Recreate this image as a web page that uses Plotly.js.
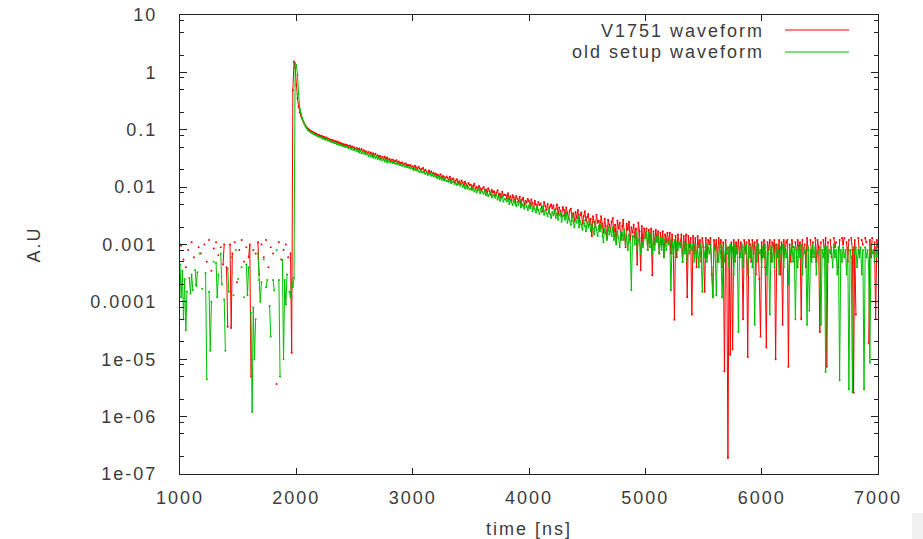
<!DOCTYPE html>
<html>
<head>
<meta charset="utf-8">
<script src="https://cdn.plot.ly/plotly-3.0.1.min.js"></script>
<style>
html,body{margin:0;padding:0;background:#ffffff;}
#chart{width:923px;height:539px;}
svg text{letter-spacing:2px;}
</style>
</head>
<body>
<div id="chart"></div>
<script>
// ---- data ----
const sampleStart = 1000;   // ns, first sample
const samplePeriod = 10;    // ns between samples
const seriesNames = ['V1751 waveform', 'old setup waveform'];
const xTickVals = [1000, 2000, 3000, 4000, 5000, 6000, 7000];
const xTickText = ['1000', '2000', '3000', '4000', '5000', '6000', '7000'];
const yTickVals = [10, 1, 0.1, 0.01, 0.001, 0.0001, 1e-5, 1e-6, 1e-7];
const yTickText = ['10', '1', '0.1', '0.01', '0.001', '0.0001', '1e-05', '1e-06', '1e-07'];
const xTitle = 'time [ns]';
const yTitle = 'A.U';

// V1751 waveform (null = non-positive sample, not drawn on log axis)
const v1751 = [
/*1000*/ 1.0e-3, 9.5e-4, null, 5.5e-4, null, 4e-4, null, 8e-4, null, null,
/*1100*/ 1.1e-3, null, 6e-4, null, 2e-4, null, 9e-4, null, 7e-4, null,
/*1200*/ null, 1.0e-3, null, 5e-4, null, 1.2e-3, null, 3.5e-4, null, 8.5e-4,
/*1300*/ null, 1.1e-3, null, 6.5e-4, null, 9e-4, null, 4.5e-4, 1.0e-3, null,
/*1400*/ 4e-4, 3.7e-5, null, 1.0e-3, 3.5e-5, 7e-4, null, 1.1e-3, null, 2.2e-4,
/*1500*/ null, 8e-4, null, 1.2e-3, null, 5e-4, null, 9e-4, null, 6e-4,
/*1600*/ 1.0e-3, 5e-6, null, 8e-4, null, 7e-4, null, 1.1e-3, 3e-4, null,
/*1700*/ 1.0e-3, null, 6e-4, null, 1.2e-3, null, 4e-4, null, 9e-4, null,
/*1800*/ 7e-4, null, null, 3.7e-6, null, 1.1e-3, null, 5.5e-4, null, 8e-4,
/*1900*/ null, 1.0e-3, null, 6e-4, null, 7e-4, 1.3e-5, 0.49, 1.55, 1.2,
/*2000*/ 0.6, 0.35, 0.25, 0.2, 0.175, 0.155, 0.138, 0.126, 0.116, 0.109,
/*2100*/ 0.104, 0.100, 0.097, 0.094, 0.092, 0.089, 0.087, 0.085, 0.083, 0.081,
/*2200*/ 0.080, 0.078, 0.078, 0.075, 0.075, 0.072, 0.073, 0.070, 0.070, 0.067,
/*2300*/ 0.067, 0.065, 0.065, 0.063, 0.063, 0.060, 0.062, 0.058, 0.059, 0.057,
/*2400*/ 0.056, 0.056, 0.054, 0.055, 0.053, 0.052, 0.053, 0.050, 0.051, 0.049,
/*2500*/ 0.049, 0.046, 0.048, 0.045, 0.047, 0.043, 0.046, 0.042, 0.044, 0.041,
/*2600*/ 0.042, 0.039, 0.041, 0.038, 0.040, 0.036, 0.039, 0.035, 0.038, 0.034,
/*2700*/ 0.036, 0.033, 0.035, 0.032, 0.034, 0.031, 0.034, 0.030, 0.033, 0.029,
/*2800*/ 0.0312, 0.0290, 0.0296, 0.0301, 0.0278, 0.0286, 0.0293, 0.0270, 0.0281, 0.0266,
/*2900*/ 0.0262, 0.0268, 0.0249, 0.0255, 0.0259, 0.0238, 0.0246, 0.0235, 0.0242, 0.0226,
/*3000*/ 0.0230, 0.0214, 0.0236, 0.0219, 0.0205, 0.0226, 0.0212, 0.0198, 0.0209, 0.0215,
/*3100*/ 0.0189, 0.0201, 0.0184, 0.0176, 0.0195, 0.0180, 0.0187, 0.0168, 0.0178, 0.0166,
/*3200*/ 0.0171, 0.0158, 0.0164, 0.0152, 0.0168, 0.0146, 0.0157, 0.0149, 0.0139, 0.0153,
/*3300*/ 0.0146, 0.0134, 0.0151, 0.0129, 0.0138, 0.0142, 0.0123, 0.0131, 0.0137, 0.0118,
/*3400*/ 0.0126, 0.0115, 0.0130, 0.0121, 0.0109, 0.0124, 0.0113, 0.0103, 0.0118, 0.0108,
/*3500*/ 0.0110, 0.0097, 0.0106, 0.0114, 0.0093, 0.0101, 0.0089, 0.0105, 0.0096, 0.0087,
/*3600*/ 0.0095, 0.0101, 0.0084, 0.0091, 0.0079, 0.0096, 0.0086, 0.0074, 0.0089, 0.0081,
/*3700*/ 0.0085, 0.0072, 0.0080, 0.0088, 0.0068, 0.0077, 0.0065, 0.0083, 0.0071, 0.0074,
/*3800*/ 0.0073, 0.0064, 0.0078, 0.0061, 0.0069, 0.0058, 0.0072, 0.0066, 0.0055, 0.0070,
/*3900*/ 0.0063, 0.0056, 0.0068, 0.0052, 0.0060, 0.0065, 0.0049, 0.0058, 0.0054, 0.0062,
/*4000*/ 0.0057, 0.0047, 0.0061, 0.0053, 0.0043, 0.0058, 0.0050, 0.0041, 0.0055, 0.0049,
/*4100*/ 0.0052, 0.0044, 0.0038, 0.0055, 0.0047, 0.0040, 0.0051, 0.0036, 0.0046, 0.0050,
/*4200*/ 0.0043, 0.0048, 0.0035, 0.0041, 0.0050, 0.0033, 0.0044, 0.0038, 0.0031, 0.0045,
/*4300*/ 0.0040, 0.0032, 0.0044, 0.0036, 0.0028, 0.0039, 0.0042, 0.0030, 0.0035, 0.0026,
/*4400*/ 0.0037, 0.0029, 0.0040, 0.0025, 0.0033, 0.0036, 0.0023, 0.0031, 0.0038, 0.0026,
/*4500*/ 0.0030, 0.0034, 0.0022, 0.0028, 0.0014, 0.0031, 0.0025, 0.0020, 0.0033, 0.0024,
/*4600*/ 0.0026, 0.0019, 0.0031, 0.0023, 0.0016, 0.0028, 0.0021, 0.0013, 0.0027, 0.0022,
/*4700*/ 0.0017, 0.0025, 0.0029, 0.0014, 0.0022, 0.0011, 0.0026, 0.0019, 0.0024, 0.0012,
/*4800*/ 0.0021, 0.0027, 0.0015, 0.0009, 0.0023, 0.0018, 0.0025, 0.0012, 0.0020, 0.0016,
/*4900*/ 0.0022, 0.0013, 0.0019, 0.00045, 0.0024, 0.0017, 0.00036, 0.0021, 0.0010, 0.0019,
/*5000*/ 0.0014, 0.0019, 0.0008, 0.0018, 0.0011, 0.0019, 0.00029, 0.0017, 0.0010, 0.0018,
/*5100*/ 0.0012, 0.0017, 0.0007, 0.0016, 0.0010, 0.0017, 0.0006, 0.0015, 0.0011, 0.0016,
/*5200*/ 0.0011, 0.0016, 0.0007, 0.0015, 0.0009, 0.000049, 0.0014, 0.0006, 0.0015, 0.0010,
/*5300*/ 0.0010, 0.0015, 0.0005, 0.0014, 0.0008, 0.0015, 0.00012, 0.0014, 0.0009, 0.0013,
/*5400*/ 0.00006, 0.0014, 0.0007, 0.0013, 0.0004, 0.0014, 0.0009, 0.0012, 0.0005, 0.0013,
/*5500*/ 0.0009, 0.00015, 0.0013, 0.0006, 0.0012, 0.0010, 0.0013, 0.0003, 0.00012, 0.0012,
/*5600*/ 0.0008, 0.0012, 0.0005, 0.0013, 0.0009, 0.0012, 0.0004, 0.0011, 6.2e-6, 0.0012,
/*5700*/ 0.0007, 1.9e-7, 0.0009, 1.2e-5, 0.0011, 1.5e-5, 0.0012, 0.0005, 0.0011, 0.0007,
/*5800*/ 0.0012, 0.0006, 0.0011, 0.0009, 0.00005, 0.0012, 0.0008, 0.0011, 0.000011, 0.0012,
/*5900*/ 0.0010, 0.0005, 0.0012, 0.0007, 0.0011, 0.0003, 0.0012, 0.0008, 0.00025, 0.000025,
/*6000*/ 0.0011, 0.0006, 0.0012, 0.0004, 0.000016, 0.0011, 0.0008, 0.0012, 0.0005, 0.0011,
/*6100*/ 0.0009, 0.0012, 0.00001, 0.0010, 0.0006, 0.0012, 0.0003, 0.0011, 0.00004, 0.0012,
/*6200*/ 0.0007, 0.0011, 0.0012, 7.4e-6, 0.0010, 0.0005, 0.0012, 0.0009, null, 0.0011,
/*6300*/ 0.0006, 0.0012, 0.0008, 0.0011, 0.00005, 0.0012, null, 0.0010, 0.0004, 0.0013,
/*6400*/ 0.0008, null, 0.0012, 0.0006, 0.0011, null, 0.0013, 0.0005, 0.0012, 0.0009,
/*6500*/ 0.00003, 0.0011, null, 0.0012, 0.0007, 0.0013, 7.4e-6, 0.0011, null, 0.0012,
/*6600*/ 0.0006, null, 0.0013, 0.0009, 0.0011, null, 0.0004, 0.0012, null, 0.0013,
/*6700*/ 0.0010, 0.0013, null, 0.0011, 0.0005, 0.0012, null, 0.0013, 0.0008, 2.6e-6,
/*6800*/ 0.0012, 0.00006, null, 0.0013, 0.0007, null, 0.0012, 0.0010, null, 0.0013,
/*6900*/ 0.0011, null, 1.9e-5, 0.0012, 0.0006, 0.0013, null, 0.0011, 0.00005, 0.0012,
/*7000*/ 0.0009
];

// old setup waveform
const oldSetup = [
/*1000*/ 4.5e-4, 1.2e-4, 3.5e-4, 5e-5, 2.5e-4, 3.2e-5, 1.5e-4, null, 2.6e-4, 1.4e-4,
/*1100*/ 3e-4, 1.6e-4, null, 3.6e-4, 1.9e-4, 3.3e-4, null, 7e-4, null, 1.7e-4,
/*1200*/ null, null, 3.2e-4, 4.5e-6, null, 1.5e-4, 1.4e-5, 1.0e-4, null, 5e-4,
/*1300*/ null, 4.8e-4, 1.2e-4, 3.0e-4, null, 7e-4, 2e-4, null, 1.1e-4, 1.4e-5,
/*1400*/ null, 3.8e-4, 1.5e-4, null, 6e-4, null, 1.3e-4, null, 8e-4, null,
/*1500*/ 2.5e-4, null, null, 4e-4, null, 1.2e-4, null, 4.5e-4, 1.3e-4, 4e-4,
/*1600*/ null, 6.5e-5, 1.2e-6, 8e-5, 1e-5, 5e-5, null, 7e-4, 2.4e-4, 1.0e-4,
/*1700*/ 2.2e-4, null, 5.5e-4, null, 1.8e-4, 2.4e-4, null, 8.5e-5, 2.5e-5, null,
/*1800*/ 2.4e-4, 1.6e-4, null, 8e-4, null, 2.4e-4, 5e-6, null, 5.4e-4, 1e-5,
/*1900*/ 2.4e-4, 9e-5, 3e-4, null, 1.5e-4, 1.2e-4, 2.5e-4, 1.8e-4, 2.6e-4, 1.45,
/*2000*/ 1.35, 0.9, 0.42, 0.23, 0.19, 0.16, 0.14, 0.125, 0.113, 0.105,
/*2100*/ 0.099, 0.095, 0.091, 0.089, 0.086, 0.084, 0.082, 0.080, 0.078, 0.076,
/*2200*/ 0.075, 0.073, 0.073, 0.070, 0.070, 0.067, 0.068, 0.065, 0.065, 0.063,
/*2300*/ 0.062, 0.061, 0.060, 0.059, 0.058, 0.056, 0.057, 0.054, 0.055, 0.053,
/*2400*/ 0.052, 0.052, 0.050, 0.051, 0.049, 0.048, 0.049, 0.046, 0.047, 0.045,
/*2500*/ 0.044, 0.046, 0.042, 0.044, 0.040, 0.043, 0.039, 0.041, 0.038, 0.040,
/*2600*/ 0.037, 0.039, 0.035, 0.037, 0.034, 0.036, 0.033, 0.035, 0.032, 0.034,
/*2700*/ 0.031, 0.033, 0.030, 0.032, 0.029, 0.031, 0.028, 0.030, 0.027, 0.029,
/*2800*/ 0.0276, 0.0268, 0.0280, 0.0262, 0.0266, 0.0255, 0.0261, 0.0250, 0.0256, 0.0244,
/*2900*/ 0.0241, 0.0236, 0.0244, 0.0228, 0.0232, 0.0222, 0.0229, 0.0218, 0.0214, 0.0220,
/*3000*/ 0.0207, 0.0199, 0.0212, 0.0194, 0.0201, 0.0189, 0.0183, 0.0195, 0.0180, 0.0186,
/*3100*/ 0.0177, 0.0170, 0.0181, 0.0163, 0.0168, 0.0174, 0.0158, 0.0164, 0.0153, 0.0160,
/*3200*/ 0.0151, 0.0144, 0.0155, 0.0139, 0.0147, 0.0135, 0.0141, 0.0131, 0.0138, 0.0128,
/*3300*/ 0.0129, 0.0124, 0.0133, 0.0117, 0.0122, 0.0127, 0.0112, 0.0118, 0.0109, 0.0116,
/*3400*/ 0.0112, 0.0106, 0.0115, 0.0100, 0.0105, 0.0096, 0.0108, 0.0094, 0.0099, 0.0091,
/*3500*/ 0.0095, 0.0089, 0.0098, 0.0084, 0.0090, 0.0081, 0.0087, 0.0093, 0.0078, 0.0085,
/*3600*/ 0.0082, 0.0077, 0.0086, 0.0072, 0.0079, 0.0069, 0.0075, 0.0081, 0.0066, 0.0073,
/*3700*/ 0.0071, 0.0065, 0.0075, 0.0061, 0.0068, 0.0058, 0.0064, 0.0070, 0.0056, 0.0062,
/*3800*/ 0.0061, 0.0056, 0.0065, 0.0051, 0.0059, 0.0054, 0.0049, 0.0060, 0.0052, 0.0047,
/*3900*/ 0.0055, 0.0049, 0.0058, 0.0044, 0.0051, 0.0047, 0.0042, 0.0053, 0.0045, 0.0040,
/*4000*/ 0.0048, 0.0043, 0.0052, 0.0038, 0.0045, 0.0041, 0.0036, 0.0047, 0.0039, 0.0034,
/*4100*/ 0.0042, 0.0037, 0.0046, 0.0033, 0.0040, 0.0035, 0.0031, 0.0041, 0.0034, 0.0029,
/*4200*/ 0.0037, 0.0032, 0.0040, 0.0029, 0.0035, 0.0027, 0.0033, 0.0036, 0.0025, 0.0031,
/*4300*/ 0.0033, 0.0027, 0.0035, 0.0024, 0.0030, 0.0026, 0.0022, 0.0032, 0.0025, 0.0020,
/*4400*/ 0.0028, 0.0024, 0.0031, 0.0020, 0.0026, 0.0022, 0.0018, 0.0027, 0.0021, 0.0017,
/*4500*/ 0.0025, 0.0020, 0.0027, 0.0017, 0.0022, 0.0019, 0.0015, 0.0024, 0.0018, 0.0014,
/*4600*/ 0.0021, 0.0017, 0.0023, 0.0014, 0.0011, 0.0019, 0.0016, 0.0012, 0.0020, 0.0015,
/*4700*/ 0.0018, 0.0014, 0.0020, 0.0012, 0.0016, 0.0010, 0.0017, 0.0013, 0.0009, 0.0016,
/*4800*/ 0.0016, 0.0012, 0.0018, 0.0010, 0.0014, 0.0008, 0.0015, 0.0011, 0.00016, 0.0014,
/*4900*/ 0.0014, 0.0010, 0.0016, 0.0008, 0.0012, 0.0013, 0.0007, 0.0011, 0.0009, 0.0013,
/*5000*/ 0.0013, 0.0017, 0.0008, 0.0016, 0.0009, 0.0015, 0.0007, 0.0015, 0.0008, 0.0014,
/*5100*/ 0.0011, 0.0014, 0.0007, 0.0013, 0.0008, 0.0013, 0.0006, 0.0012, 0.0008, 0.0012,
/*5200*/ 0.0010, 0.0012, 0.00016, 0.0011, 0.0007, 0.0012, 0.0006, 0.0011, 0.0008, 0.0011,
/*5300*/ 0.0009, 0.0011, 0.0005, 0.0011, 0.0007, 0.0010, 0.0005, 0.0010, 0.0007, 0.0010,
/*5400*/ 0.0008, 0.0010, 0.0005, 0.0010, 0.0006, 0.0009, 0.0004, 0.0010, 0.0006, 0.00015,
/*5500*/ 0.0009, 0.0006, 0.0010, 0.0005, 0.0009, 0.0007, 0.0010, 0.0004, 0.00012, 0.0009,
/*5600*/ 0.0008, 0.00013, 0.0009, 0.0005, 0.0010, 0.0006, 0.00012, 0.0009, 0.0005, 0.0010,
/*5700*/ 0.0007, 0.0009, 0.0004, 0.0010, 0.0006, 0.0009, 0.0003, 0.0010, 0.0007, 0.0009,
/*5800*/ 0.00003, 0.0009, 0.0006, 0.0010, 0.0004, 0.0009, 0.0007, 0.0010, 0.0003, 0.0009,
/*5900*/ 0.0006, 0.0009, 0.0004, 0.0010, 0.00004, 0.0009, 0.0005, 0.0010, 0.0007, 0.0008,
/*6000*/ 0.0004, 0.0009, 0.0006, 0.0010, 0.0003, 0.0009, 0.0007, 0.00006, 0.0009, 0.0005,
/*6100*/ 0.0009, 0.0004, 0.0010, 0.0006, 0.0008, 0.0003, 0.0009, 0.0007, 0.0010, 0.0004,
/*6200*/ 0.0009, 0.0006, 0.0008, 0.0002, 0.0009, 0.0007, 0.0010, 0.0005, 0.0009, 0.00005,
/*6300*/ 0.0008, 0.0004, 0.0009, 0.0006, 0.0010, 0.0003, 0.0009, 0.0007, 0.0008, 0.00004,
/*6400*/ 0.0009, 0.00007, 0.0008, 0.0005, 0.0010, 0.0006, 0.0009, 0.0003, 0.0008, 0.0007,
/*6500*/ 0.0009, 0.00004, 0.0008, 0.0006, 0.0009, 6e-6, 0.0009, 0.0005, 0.0008, 0.0007,
/*6600*/ 0.0009, 0.0004, 0.0010, 0.0006, 0.0008, 0.0003, 0.0009, 4.3e-6, 0.0008, 0.0005,
/*6700*/ 0.0009, 0.0006, 0.0008, 0.0003, 0.0009, 3e-6, 0.0008, 0.0006, 2.7e-6, 0.0009,
/*6800*/ 0.0007, 0.0009, 0.0004, 0.0008, 0.0006, 0.0009, 0.0003, 0.0008, 3e-6, 0.0009,
/*6900*/ 0.0006, 0.0008, 0.0004, 8.7e-6, 0.0009, 0.0007, 0.0008, 0.0005, 0.0009, 0.0006,
/*7000*/ 0.0008
];

// ---- drawing ----
const sampleTimes = v1751.map((_, i) => sampleStart + i * samplePeriod);

// pixel geometry of the frame (used only for paper-coordinate styling helpers)
const FRAME = {l: 180, r: 878, t: 15, b: 474};
const px = x => (x - FRAME.l) / (FRAME.r - FRAME.l);
const py = y => (FRAME.b - y) / (FRAME.b - FRAME.t);

const minorTicks = [];
for (let e = -7; e <= 0; e++) {
  [2, 5, 8].forEach(m => minorTicks.push(m * Math.pow(10, e)));
}

const fontFamily = '"Liberation Sans", Arial, sans-serif';
const textColor = '#3c3c3c';
const frameColor = '#222222';
const colors = ['#ff0000', '#00c000'];

const traces = [
  {x: sampleTimes, y: v1751, name: seriesNames[0], type: 'scatter', mode: 'lines+markers',
   line: {color: colors[0], width: 1}, marker: {color: colors[0], size: 2}, connectgaps: false},
  {x: sampleTimes, y: oldSetup, name: seriesNames[1], type: 'scatter', mode: 'lines+markers',
   line: {color: colors[1], width: 1}, marker: {color: colors[1], size: 2}, connectgaps: false},
  {x: [], y: [], yaxis: 'y2', showlegend: false, hoverinfo: 'skip', type: 'scatter', mode: 'lines'}
];

const layout = {
  width: 923, height: 539,
  margin: {l: FRAME.l, r: 923 - FRAME.r, t: FRAME.t, b: 539 - FRAME.b, pad: 0},
  paper_bgcolor: '#ffffff', plot_bgcolor: '#ffffff',
  showlegend: false,
  font: {family: fontFamily, size: 18, color: textColor},
  xaxis: {
    type: 'linear', range: [1000, 7000],
    tickmode: 'array', tickvals: xTickVals, ticktext: xTickText,
    ticks: 'inside', ticklen: 6, tickwidth: 1, tickcolor: frameColor,
    showline: true, linecolor: frameColor, linewidth: 1, mirror: 'ticks',
    showgrid: false, zeroline: false,
    tickfont: {family: fontFamily, size: 18, color: textColor},
    ticklabelstandoff: 7,
    title: {text: xTitle, font: {family: fontFamily, size: 18, color: textColor}, standoff: 18}
  },
  yaxis: {
    type: 'log', range: [-7, 1],
    tickmode: 'array', tickvals: yTickVals, ticktext: yTickText,
    ticks: 'inside', ticklen: 7, tickwidth: 1, tickcolor: frameColor,
    showline: true, linecolor: frameColor, linewidth: 1, mirror: 'ticks',
    showgrid: false, zeroline: false,
    tickfont: {family: fontFamily, size: 18, color: textColor},
    ticklabelstandoff: 18,
    title: {text: yTitle, font: {family: fontFamily, size: 18, color: textColor}, standoff: 45}
  },
  yaxis2: {
    type: 'log', range: [-7, 1], overlaying: 'y', side: 'left', anchor: 'x',
    tickmode: 'array', tickvals: minorTicks, showticklabels: false,
    ticks: 'inside', ticklen: 4, tickwidth: 1, tickcolor: frameColor,
    showline: true, linecolor: frameColor, linewidth: 1, mirror: 'ticks',
    showgrid: false, zeroline: false
  },
  annotations: [
    {xref: 'paper', yref: 'paper', x: px(766), y: py(31), xanchor: 'right', yanchor: 'middle',
     text: seriesNames[0], showarrow: false, font: {family: fontFamily, size: 18, color: textColor}},
    {xref: 'paper', yref: 'paper', x: px(766), y: py(52), xanchor: 'right', yanchor: 'middle',
     text: seriesNames[1], showarrow: false, font: {family: fontFamily, size: 18, color: textColor}}
  ],
  shapes: [
    {type: 'line', xref: 'paper', yref: 'paper', x0: px(785), x1: px(849), y0: py(30), y1: py(30),
     line: {color: colors[0], width: 1}},
    {type: 'line', xref: 'paper', yref: 'paper', x0: px(785), x1: px(849), y0: py(52), y1: py(52),
     line: {color: colors[1], width: 1}},
    {type: 'rect', xref: 'paper', yref: 'paper', x0: px(912), x1: px(923), y0: py(539), y1: py(513),
     line: {width: 0}, fillcolor: '#f1f1f1', layer: 'below'}
  ]
};

Plotly.newPlot('chart', traces, layout, {displayModeBar: false, staticPlot: true});
</script>
</body>
</html>
